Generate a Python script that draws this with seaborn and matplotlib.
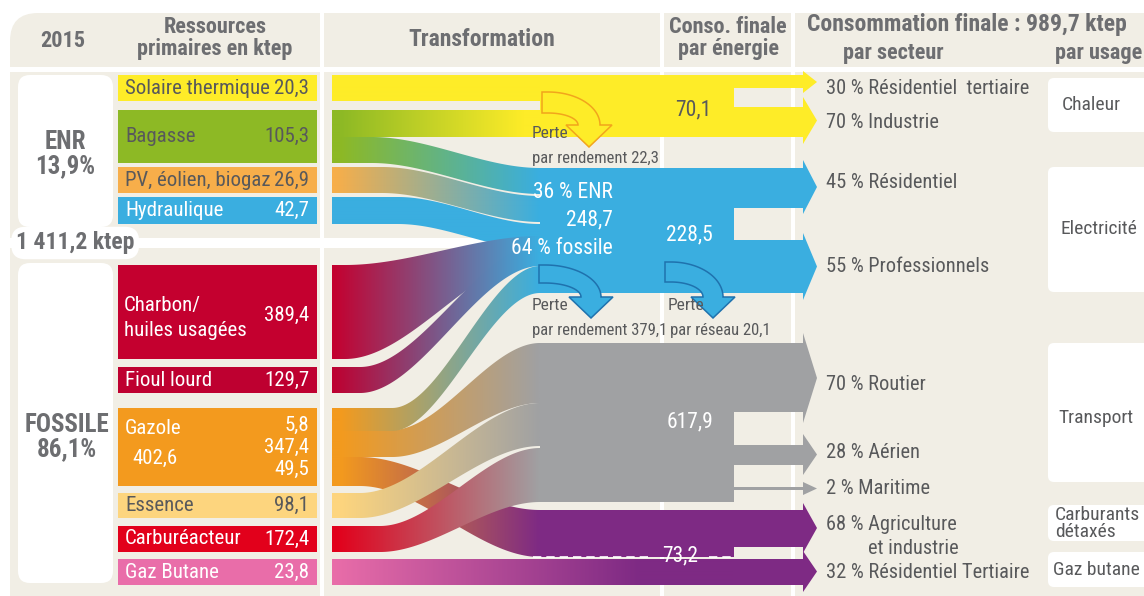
import numpy as np
import matplotlib
matplotlib.use("Agg")
import matplotlib.pyplot as plt
from matplotlib.patches import Polygon, Rectangle, FancyBboxPatch
from matplotlib import font_manager as fm
import seaborn as sns

# ---------------- data ----------------
year = "2015"
total_primary = "1 411,2 ktep"
enr_share = "13,9%"
fossil_share = "86,1%"
source_labels = ["Solaire thermique", "Bagasse", "PV, éolien, biogaz", "Hydraulique",
                 "Charbon/\nhuiles usagées", "Fioul lourd", "Gazole", "Essence",
                 "Carburéacteur", "Gaz Butane"]
source_values = [20.3, 105.3, 26.9, 42.7, 389.4, 129.7, 402.6, 98.1, 172.4, 23.8]
gazole_split = [5.8, 347.4, 49.5]
energy_values = [70.1, 228.5, 617.9, 73.2]          # chaleur, électricité, transport, détaxés+butane
elec_production = 248.7
elec_mix = [36, 64]                                  # % ENR, % fossile
losses = [22.3, 379.1, 20.1]                         # rendement chaleur, rendement élec, réseau
final_total = 989.7
sector_shares = [30, 70, 45, 55, 70, 28, 2, 68, 32]
sector_labels = ["Résidentiel  tertiaire", "Industrie", "Résidentiel", "Professionnels",
                 "Routier", "Aérien", "Maritime", "Agriculture", "Résidentiel Tertiaire"]
usage_labels = ["Chaleur", "Electricité", "Transport", "Carburants\ndétaxés", "Gaz butane"]


def fr(v):
    return f"{v:.1f}".replace(".", ",")


# ---------------- style ----------------
sns.set_theme(style="white")
avail = {f.name for f in fm.fontManager.ttflist}
FONT, STRETCH = "DejaVu Sans", "normal"
for cand in ["Roboto Condensed", "Open Sans Condensed", "Liberation Sans Narrow",
             "Noto Sans Condensed", "DejaVu Sans Condensed"]:
    if cand in avail:
        FONT = cand
        break
else:
    if any(f.name == "DejaVu Sans" and f.stretch == "condensed" for f in fm.fontManager.ttflist):
        STRETCH = "condensed"
plt.rcParams["font.family"] = [FONT, "DejaVu Sans"]

BEIGE = "#F1EEE5"
HEAD = "#6D6E71"
DARK = "#58595B"
YELLOW = "#FEEC28"
GREEN = "#8DB925"
ORANGE_L = "#F7AE4A"
BLUE = "#3AAEE0"
RED_D = "#C4002F"
RED_F = "#BE0030"
ORANGE = "#F39A1E"
CREAM = "#FDD57E"
RED = "#E2001B"
PINK = "#E96DA9"
GREY = "#A0A1A3"
PURPLE = "#7E2A84"

src_colors = [YELLOW, GREEN, ORANGE_L, BLUE, RED_D, RED_F, ORANGE, CREAM, RED, PINK]
src_text = [DARK, DARK, DARK, "white", "white", "white", "white", DARK, "white", "white"]

# ---------------- layout (pixels) ----------------
W, H = 1144, 596
fig = plt.figure(figsize=(W / 100, H / 100), dpi=100)
ax = fig.add_axes([0, 0, 1, 1])
ax.set_xlim(0, W)
ax.set_ylim(H, 0)
ax.axis("off")
fig.patch.set_facecolor("white")


def T(x, y, s, size=15, color=DARK, weight="normal", ha="left", va="center", z=10, ls=0.95, **kw):
    ax.text(x, y, s, fontsize=size, color=color, fontweight=weight, ha=ha, va=va,
            fontstretch=STRETCH, zorder=z, linespacing=ls, **kw)


# background panel
ax.add_patch(FancyBboxPatch((10, 13), W + 40, H + 40, boxstyle="round,pad=0,rounding_size=28",
                            fc=BEIGE, ec="none", zorder=0))
ax.add_patch(Rectangle((10, 67), W, 5, fc="white", ec="none", zorder=0.5))
for vx in [320, 660, 791]:
    ax.add_patch(Rectangle((vx, 13), 3.5, H, fc="white", ec="none", zorder=0.5))
ax.add_patch(Rectangle((10, 238), 520, 10, fc="white", ec="none", zorder=0.5))

# white boxes (left groups and usages)
for (bx, by, bw, bh) in [(18, 75, 95, 152), (18, 263, 95, 320)]:
    ax.add_patch(FancyBboxPatch((bx, by), bw, bh, boxstyle="round,pad=0,rounding_size=12",
                                fc="white", ec="none", zorder=1))
usage_boxes = [(78, 132), (167, 292), (343, 482), (505, 541), (552, 587)]
for (y0, y1) in usage_boxes:
    ax.add_patch(FancyBboxPatch((1048, y0), 120, y1 - y0, boxstyle="round,pad=0,rounding_size=6",
                                fc="white", ec="none", zorder=1))

# header texts
T(63, 41, year, 16, HEAD, "bold", "center")
T(215, 38, "Ressources\nprimaires en ktep", 16, HEAD, "bold", "center")
T(482, 40, "Transformation", 17, HEAD, "bold", "center")
T(728, 38, "Conso. finale\npar énergie", 16, HEAD, "bold", "center")
T(967, 25, f"Consommation finale : {fr(final_total)} ktep", 17, HEAD, "bold", "center")
T(893, 53, "par secteur", 16, HEAD, "bold", "center")
T(1099, 53, "par usage", 16, HEAD, "bold", "center")

T(65, 154, f"ENR\n{enr_share}", 18, HEAD, "bold", "center", ls=1.02)
T(67, 437, f"FOSSILE\n{fossil_share}", 18, HEAD, "bold", "center", ls=1.05)
T(16, 243, total_primary, 17, HEAD, "bold", "left",
  bbox=dict(boxstyle="round,pad=0.2,rounding_size=0.6", fc="white", ec="none"))

# ---------------- source bars ----------------
src_y = [(75, 101), (110, 163), (167, 193), (197, 224), (265, 359), (367, 393),
         (408, 486), (493, 518), (526, 552), (559, 585)]
for i, (y0, y1) in enumerate(src_y):
    ax.add_patch(Rectangle((118, y0), 199, y1 - y0, fc=src_colors[i], ec="none", zorder=2))
    c = src_text[i]
    if source_labels[i] == "Gazole":
        T(125, 428, "Gazole", color=c)
        T(132, 458, fr(source_values[i]), color=c)
        for v, yy in zip(gazole_split, [425, 447, 469]):
            T(309, yy, fr(v), color=c, ha="right")
    elif "\n" in source_labels[i]:
        T(124, 318, source_labels[i], color=c, ls=1.35)
        T(309, 315, fr(source_values[i]), color=c, ha="right")
    else:
        T(125, (y0 + y1) / 2, source_labels[i], color=c)
        T(309, (y0 + y1) / 2, fr(source_values[i]), color=c, ha="right")


# ---------------- flows ----------------
def ribbon(span0, span1, xa, xb, cx0, cx1, c0, c1, g0, g1, z=3):
    xs = np.linspace(xa, xb, 400)
    t = np.clip((xs - cx0) / (cx1 - cx0), 0, 1)
    s = t * t * (3 - 2 * t)
    top = span0[0] + (span1[0] - span0[0]) * s
    bot = span0[1] + (span1[1] - span0[1]) * s
    verts = np.vstack([np.column_stack([xs, top]), np.column_stack([xs[::-1], bot[::-1]])])
    poly = Polygon(verts, closed=True, fc="none", ec="none", zorder=z)
    ax.add_patch(poly)
    cmap = sns.blend_palette([c0, c1], n_colors=256, as_cmap=True)
    xc = np.linspace(xa, xb, max(int(xb - xa), 2))
    frac = np.clip((xc - g0) / (g1 - g0), 0, 1)
    img = cmap(frac)[None, :, :]
    ylo, yhi = min(top.min(), bot.min()), max(top.max(), bot.max())
    im = ax.imshow(img, extent=(xa, xb, yhi, ylo), aspect="auto", interpolation="bilinear", zorder=z)
    im.set_clip_path(poly)


XS, XT = 332, 545
flows = [
    # (span at source, span at target, curve start, curve end, c0, c1, grad start, grad end, z)
    ((75, 101), (75, 101), 400, 540, YELLOW, YELLOW, 332, 540, 3),
    ((110, 137), (110, 137), 400, 540, GREEN, YELLOW, 340, 525, 3),
    ((137, 163), (168, 194), 372, 540, GREEN, BLUE, 340, 540, 3),
    ((167, 193), (196, 222), 382, 540, ORANGE_L, BLUE, 335, 540, 3),
    ((197, 224), (224, 250), 398, 540, BLUE, BLUE, 332, 540, 3),
    ((265, 359), (236, 258), 345, 540, RED_D, BLUE, 332, 540, 3),
    ((367, 393), (245, 266), 360, 540, RED_F, BLUE, 332, 540, 3.1),
    ((408, 431), (266, 293), 392, 540, ORANGE, BLUE, 340, 540, 3.2),
    ((457, 486), (510, 557), 360, 540, ORANGE, PURPLE, 340, 540, 3),
    ((430, 457), (343, 403), 392, 540, ORANGE, GREY, 340, 540, 3.1),
    ((493, 518), (403, 446), 360, 540, CREAM, GREY, 340, 540, 3.2),
    ((526, 552), (448, 502), 380, 540, RED, GREY, 335, 540, 3.3),
]
for (s0, s1, c0x, c1x, ca, cb, g0, g1, z) in flows:
    ribbon(s0, s1, XS, XT, c0x, c1x, ca, cb, g0, g1, z)
# butane straight band
ribbon((559, 585), (559, 585), XS, 740, 400, 500, PINK, PURPLE, 332, 640, 3)

# merged blocks ("conso finale par énergie")
XB0, XB1 = 540, 734
blocks = [((75, 137), YELLOW), ((168, 293), BLUE), ((343, 502), GREY), ((510, 557), PURPLE)]
for (y0, y1), c in blocks:
    ax.add_patch(Rectangle((XB0, y0), XB1 - XB0, y1 - y0, fc=c, ec="none", zorder=4))


def arrow(shaft, head, c, xs=733, xb=803, xt=817, z=4):
    s0, s1 = shaft
    h0, h1 = head
    pts = [(xs, s0), (xb, s0), (xb, h0), (xt, (h0 + h1) / 2), (xb, h1), (xb, s1), (xs, s1)]
    ax.add_patch(Polygon(pts, closed=True, fc=c, ec="none", zorder=z))


sector_arrows = [((75, 88), (71, 93), YELLOW), ((107, 137), (97, 144), YELLOW),
                 ((168, 208), (160, 214), BLUE), ((240, 293), (233, 300), BLUE),
                 ((343, 412), (333, 423), GREY), ((445, 465), (434, 475), GREY),
                 ((487, 490), (482, 495), GREY),
                 ((510, 547), (503, 553), PURPLE), ((559, 585), (551, 592), PURPLE)]
for sh, hd, c in sector_arrows:
    arrow(sh, hd, c)


def loss_arrow(cx, cy, rxo, ryo, rxi, ryi, fc, ec, hw=12, hl=22, tail=6):
    th = np.linspace(np.pi / 2, 0, 60)
    outer = np.column_stack([cx + rxo * np.cos(th), cy - ryo * np.sin(th)])
    inner = np.column_stack([cx + rxi * np.cos(th[::-1]), cy - ryi * np.sin(th[::-1])])
    mid = cx + (rxo + rxi) / 2
    pts = [(cx - tail, cy - ryo)] + outer.tolist() + [
        (cx + rxo + hw, cy), (mid, cy + hl), (cx + rxi - hw, cy)] + inner.tolist() + [(cx - tail, cy - ryi)]
    ax.add_patch(Polygon(pts, closed=True, fc=fc, ec=ec, lw=1.1, zorder=5, joinstyle="miter"))


loss_arrow(548, 125, 52, 33, 30, 12, YELLOW, "#F2A51C")
loss_arrow(545, 297, 56, 32, 36, 14, BLUE, "#1F72AE", hl=21)
loss_arrow(671, 297, 52, 35, 32, 15, BLUE, "#1F72AE", hl=21)

# dashed separator for the 73,2
ax.plot([533, 650], [556.5, 556.5], color="white", lw=1.2, ls=(0, (5, 3)), zorder=6)
ax.plot([709, 733], [556.5, 556.5], color="white", lw=1.2, ls=(0, (5, 3)), zorder=6)

# ---------------- numbers on flows ----------------
LS = 12
T(532, 133, "Perte", LS + 0.5, DARK)
T(532, 158, f"par rendement {fr(losses[0])}", LS, DARK)
T(532, 305, "Perte", LS + 0.5, DARK)
T(532, 331, f"par rendement {fr(losses[1])}", LS, DARK)
T(668, 305, "Perte", LS + 0.5, DARK)
T(670, 331, f"par réseau {fr(losses[2])}", LS, DARK)

T(613, 192, f"{elec_mix[0]} % ENR", 15.5, "white", ha="right")
T(613, 220, fr(elec_production), 15.5, "white", ha="right")
T(613, 248, f"{elec_mix[1]} % fossile", 15.5, "white", ha="right")

T(693, 110, fr(energy_values[0]), 15.5, DARK, ha="center")
T(689, 235, fr(energy_values[1]), 15.5, "white", ha="center")
T(690, 422, fr(energy_values[2]), 15.5, "white", ha="center")
T(680, 556, fr(energy_values[3]), 15.5, "white", ha="center")

# ---------------- sectors ----------------
SS = 14.7
sector_y = [88, 123, 183, 267, 384, 452, 488, 524, 572]
for sh, lab, yy in zip(sector_shares, sector_labels, sector_y):
    T(826, yy, f"{sh} % {lab}", SS, DARK)
T(868, 549, "et industrie", SS, DARK)

# ---------------- usages ----------------
US = 14
T(1062, 105, usage_labels[0], US, DARK)
T(1060, 229, usage_labels[1], US, DARK)
T(1058, 418, usage_labels[2], US, DARK)
for line, yy in zip(usage_labels[3].split("\n"), [515, 532]):
    T(1055, yy, line, US, DARK)
T(1053, 570, usage_labels[4], US, DARK)

ax.set_xlim(0, W)
ax.set_ylim(H, 0)
fig.savefig("out.png", dpi=100, facecolor="white")
